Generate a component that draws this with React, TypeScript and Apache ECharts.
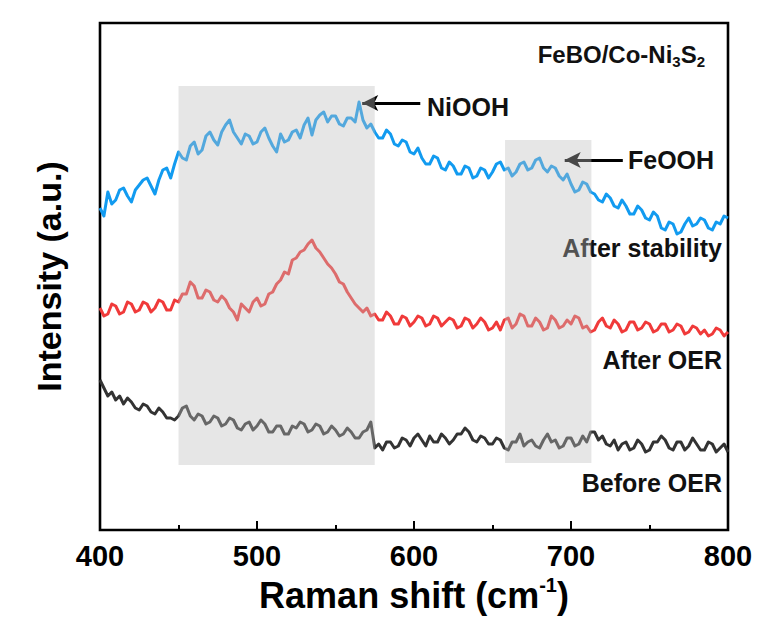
import React, { useEffect, useRef } from "react";
import * as echarts from "echarts";

// Raman shift sampling grid (cm-1), 2.5 cm-1 steps
const ramanShift: number[] = Array.from({ length: 161 }, (_, i) => 400 + 2.5 * i);

// Intensities (arbitrary units, offset traces)
const afterStability = [
  322, 314, 338, 326, 330, 340, 342, 334, 328, 340,
  345, 350, 352, 344, 336, 350, 360, 362, 352, 366,
  378, 372, 370, 384, 388, 376, 380, 394, 398, 390,
  385, 398, 405, 410, 398, 392, 386, 396, 394, 386,
  388, 398, 402, 392, 384, 378, 396, 388, 390, 398,
  400, 392, 405, 412, 395, 410, 415, 418, 408, 414,
  414, 406, 404, 412, 412, 408, 428, 410, 402, 406,
  398, 392, 392, 400, 396, 386, 384, 390, 388, 378,
  376, 382, 372, 366, 366, 374, 372, 362, 360, 368,
  364, 356, 356, 364, 362, 352, 354, 362, 360, 352,
  358, 366, 368, 360, 362, 354, 358, 366, 368, 360,
  362, 370, 372, 362, 358, 364, 362, 354, 350, 356,
  346, 338, 340, 348, 346, 338, 336, 330, 328, 336,
  332, 324, 322, 330, 324, 316, 316, 324, 320, 312,
  310, 318, 314, 302, 300, 308, 306, 296, 298, 306,
  312, 304, 306, 312, 310, 302, 300, 308, 306, 314,
  312,
];
const afterOER = [
  222, 214, 216, 226, 224, 216, 218, 228, 226, 218,
  220, 228, 226, 218, 222, 230, 228, 220, 220, 230,
  228, 236, 236, 248, 244, 232, 232, 240, 238, 230,
  228, 234, 230, 222, 218, 210, 226, 222, 218, 228,
  232, 224, 226, 236, 238, 246, 250, 258, 256, 270,
  272, 278, 280, 286, 290, 282, 278, 272, 266, 262,
  256, 248, 246, 238, 232, 226, 222, 218, 222, 214,
  216, 210, 210, 218, 214, 206, 206, 214, 212, 204,
  208, 214, 212, 204, 206, 214, 212, 204, 208, 212,
  210, 202, 204, 212, 210, 202, 206, 212, 208, 200,
  202, 208, 200, 210, 212, 202, 206, 216, 214, 204,
  204, 212, 208, 200, 202, 214, 210, 202, 204, 210,
  206, 214, 212, 202, 204, 198, 200, 208, 212, 204,
  202, 210, 206, 198, 200, 208, 208, 200, 202, 208,
  206, 198, 200, 206, 206, 198, 200, 206, 204, 196,
  198, 204, 202, 196, 200, 194, 196, 202, 200, 194,
  198,
];
const beforeOER = [
  150, 142, 134, 138, 130, 134, 126, 132, 128, 122,
  120, 126, 124, 118, 116, 122, 118, 112, 112, 110,
  114, 122, 124, 114, 110, 116, 114, 106, 108, 114,
  112, 104, 106, 112, 110, 102, 100, 106, 108, 100,
  104, 110, 106, 98, 98, 104, 104, 96, 96, 104,
  102, 108, 106, 98, 100, 106, 104, 96, 98, 104,
  100, 94, 96, 102, 98, 92, 92, 98, 100, 108,
  82, 86, 80, 88, 88, 82, 84, 92, 90, 84,
  92, 96, 90, 84, 94, 88, 88, 96, 92, 86,
  90, 96, 96, 102, 98, 90, 88, 94, 92, 86,
  86, 92, 90, 82, 80, 88, 88, 96, 84, 88,
  90, 84, 82, 90, 96, 88, 90, 82, 84, 92,
  92, 84, 86, 94, 88, 98, 98, 90, 94, 86,
  84, 90, 80, 86, 88, 80, 82, 90, 86, 78,
  80, 88, 88, 94, 90, 82, 80, 88, 88, 80,
  84, 92, 86, 80, 80, 88, 86, 78, 82, 86,
  78,
];

// Shaded regions [x0, x1, yBottom, yTop]
const shadeStart = [450, 658];
const shadeEnd = [575, 713];
const shadeBottom = [65, 67];
const shadeTop = [444, 390];

// Arrows [tipX, tailX, y]
const arrowTipX = [567, 696];
const arrowTailX = [604, 733];
const arrowY = [427, 370];

const FONT = '"Liberation Sans", Arial, Helvetica, sans-serif';

export default function App() {
  const ref = useRef<HTMLDivElement>(null);
  useEffect(() => {
    if (!ref.current) return;
    const chart = echarts.init(ref.current, undefined, { renderer: "svg" });
    const mk = (ys: number[]) => ramanShift.map((x, i) => [x, ys[i]]);
    const shadeData = shadeStart.map((s, i) => [s, shadeEnd[i], shadeBottom[i], shadeTop[i]]);
    const lineSeries = (name: string, data: number[], color: string, extra: any = {}) => ({
      type: "line",
      name,
      data: mk(data),
      showSymbol: false,
      symbol: "none",
      z: 2,
      lineStyle: { color, width: 3, join: "round" },
      ...extra,
    });
    const textBase = { fontFamily: FONT, fontWeight: "bold", fill: "#111" };
    chart.setOption({
      animation: false,
      backgroundColor: "#fff",
      grid: {
        left: 100,
        right: 31,
        top: 23,
        bottom: 110,
        show: true,
        borderColor: "#000",
        borderWidth: 2.6,
        backgroundColor: "transparent",
      },
      xAxis: {
        type: "value",
        min: 400,
        max: 800,
        interval: 100,
        axisLine: { show: false },
        splitLine: { show: false },
        axisTick: { show: true, inside: true, length: 9, lineStyle: { color: "#000", width: 2 } },
        minorTick: { show: true, splitNumber: 2, length: 5, lineStyle: { color: "#000", width: 2 } },
        axisLabel: { fontFamily: FONT, fontWeight: "bold", fontSize: 29, color: "#000", margin: 11 },
        name: "{a|Raman shift (cm}{b|-1}{a|)}",
        nameLocation: "middle",
        nameGap: 32,
        nameTextStyle: {
          rich: {
            a: { fontFamily: FONT, fontWeight: "bold", fontSize: 36, color: "#000", lineHeight: 42 },
            b: { fontFamily: FONT, fontWeight: "bold", fontSize: 20, color: "#000", lineHeight: 20, verticalAlign: "top" },
          },
        },
      },
      yAxis: {
        type: "value",
        min: 0,
        max: 507,
        axisLine: { show: false },
        axisTick: { show: false },
        axisLabel: { show: false },
        splitLine: { show: false },
        name: "Intensity (a.u.)",
        nameLocation: "middle",
        nameRotate: 90,
        nameGap: 34,
        nameTextStyle: { fontFamily: FONT, fontWeight: "bold", fontSize: 34, color: "#000" },
      },
      series: [
        lineSeries("Before OER", beforeOER, "#333333"),
        lineSeries("After OER", afterOER, "#f03a3a"),
        lineSeries("After stability", afterStability, "#129bf0", {
          markLine: {
            silent: true,
            symbol: ["arrow", "none"],
            symbolSize: [12, 16],
            label: { show: false },
            lineStyle: { color: "#000", width: 3, type: "solid" },
            data: arrowTipX.map((t, i) => [
              { coord: [t, arrowY[i]] },
              { coord: [arrowTailX[i], arrowY[i]] },
            ]),
          },
        }),
        {
          type: "custom",
          z: 10,
          silent: true,
          encode: { x: [0, 1], y: [2, 3] },
          data: shadeData,
          renderItem: (params: any, api: any) => {
            const p0 = api.coord([api.value(0), api.value(3)]);
            const p1 = api.coord([api.value(1), api.value(2)]);
            return {
              type: "rect",
              shape: { x: p0[0], y: p0[1], width: p1[0] - p0[0], height: p1[1] - p0[1] },
              style: { fill: "rgba(190,190,190,0.38)" },
            };
          },
        },
      ],
      graphic: [
        {
          type: "text",
          z: 1,
          x: 705,
          y: 54,
          style: {
            text: "{a|FeBO/Co-Ni}{s|3}{a|S}{s|2}",
            align: "right",
            textAlign: "right",
            verticalAlign: "middle",
            textVerticalAlign: "middle",
            rich: {
              a: { fontFamily: FONT, fontWeight: "bold", fontSize: 24, fill: "#111", lineHeight: 30 },
              s: { fontFamily: FONT, fontWeight: "bold", fontSize: 15, fill: "#111", lineHeight: 15, verticalAlign: "bottom" },
            },
          },
        },
        { type: "text", z: 1, x: 427, y: 107, style: { ...textBase, text: "NiOOH", fontSize: 25, align: "left", textAlign: "left", verticalAlign: "middle", textVerticalAlign: "middle" } },
        { type: "text", z: 1, x: 628, y: 160, style: { ...textBase, text: "FeOOH", fontSize: 25, align: "left", textAlign: "left", verticalAlign: "middle", textVerticalAlign: "middle" } },
        { type: "text", z: 1, x: 722, y: 248, style: { ...textBase, text: "After stability", fontSize: 25, align: "right", textAlign: "right", verticalAlign: "middle", textVerticalAlign: "middle" } },
        { type: "text", z: 1, x: 722, y: 360, style: { ...textBase, text: "After OER", fontSize: 25, align: "right", textAlign: "right", verticalAlign: "middle", textVerticalAlign: "middle" } },
        { type: "text", z: 1, x: 722, y: 483, style: { ...textBase, text: "Before OER", fontSize: 25, align: "right", textAlign: "right", verticalAlign: "middle", textVerticalAlign: "middle" } },
      ],
    });
    return () => chart.dispose();
  }, []);
  return <div ref={ref} style={{ width: 759, height: 640, position: "absolute", left: 0, top: 0 }} />;
}
